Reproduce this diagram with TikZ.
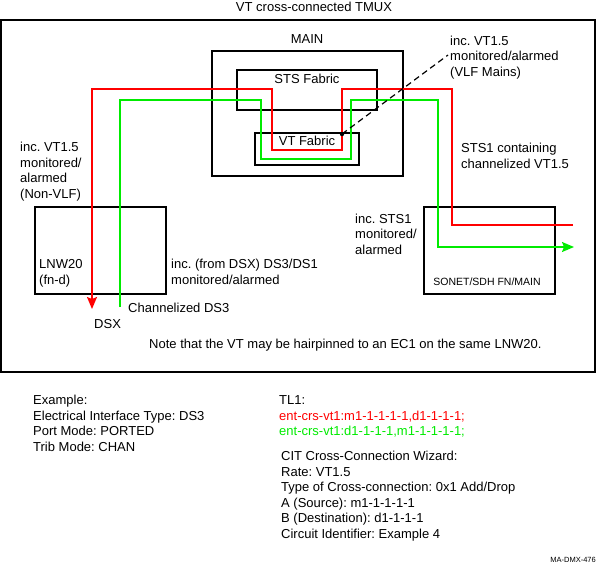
\documentclass[tikz,border=0pt]{standalone}
\usepackage{fontspec}
\setmainfont{Liberation Sans}
\usepackage{tikz}
\usepackage{xcolor}
\usetikzlibrary{arrows.meta}
\frenchspacing

\definecolor{vtred}{RGB}{255,0,0}
\definecolor{vtgreen}{RGB}{0,235,0}

\begin{document}
\begin{tikzpicture}[x=1pt, y=-1pt,
    box/.style={draw, line width=1.5pt, inner sep=0pt, anchor=north west},
    txt/.style={inner sep=0pt, anchor=base west, align=left, font=\fontsize{13}{15.5}\selectfont},
    small/.style={inner sep=0pt, font=\fontsize{10.5}{12}\selectfont},
    path red/.style={line width=1.5pt, draw=vtred},
    path green/.style={line width=1.5pt, draw=vtgreen},
    >={Stealth[length=12pt, width=10pt, inset=2pt]}]
  \useasboundingbox (0,0) rectangle (596,563);

  % frame and boxes
  \draw[line width=1.5pt] (1,20) rectangle (595,372);
  \node[box, minimum width=191pt, minimum height=125pt] (main) at (211,50) {};
  \node[box, minimum width=140pt, minimum height=40pt] (sts) at (236,69) {};
  \node[box, minimum width=104pt, minimum height=32pt] (vt) at (254,132) {};
  \node[box, minimum width=131pt, minimum height=87pt] (lnw) at (34,206) {};
  \node[box, minimum width=131pt, minimum height=87pt] (sonet) at (423,206) {};

  % box labels
  \node[txt, anchor=base] (title) at (314,11.5) {VT cross-connected TMUX};
  \node[txt, anchor=base] (mainlbl) at (307,43.5) {MAIN};
  \node[txt, anchor=base] (stslbl) at (307,83.5) {STS Fabric};
  \node[txt, anchor=base] (vtlbl) at (307,145.5) {VT Fabric};
  \node[txt] (lnwlbl) at (39,284) {LNW20\\(fn-d)};
  \node[small, anchor=base] (sonetlbl) at (487,285) {SONET/SDH FN/MAIN};

  % end points of the paths
  \coordinate (redin) at (573,225);
  \coordinate (dsx) at (92,309);
  \coordinate (chds3) at (120,307);
  \coordinate (greenout) at (574,247);
  \coordinate (tap) at (342,134);
  \coordinate (tapend) at (448,55);

  \draw[path red, ->] (redin) -- (452,225) -- (452,89) -- (342,89) -- (342,150)
    -- (272,150) -- (272,89) -- (92,89) -- (dsx);
  \draw[path green, ->] (chds3) -- (120,100) -- (261,100) -- (261,159)
    -- (351,159) -- (351,100) -- (438,100) -- (438,247) -- (greenout);
  \fill (tap) circle (2.2pt);
  \draw[line width=1.2pt, dash pattern=on 6pt off 4pt] (tap) -- (tapend);

  % notes in the frame
  \node[txt] (vlf) at (450,76) {inc. VT1.5\\monitored/alarmed\\(VLF Mains)};
  \node[txt] (nonvlf) at (20,198) {inc. VT1.5\\monitored/\\alarmed\\(Non-VLF)};
  \node[txt] (sts1) at (461,168) {STS1 containing\\channelized VT1.5};
  \node[txt] (incsts) at (355,254) {inc. STS1\\monitored/\\alarmed};
  \node[txt] (incds3) at (171,284) {inc. (from DSX) DS3/DS1\\monitored/alarmed};
  \node[txt] (chlbl) at (128,312.5) {Channelized DS3};
  \node[txt] (dsxlbl) at (94,328) {DSX};
  \node[txt] (note) at (149,348.5) {Note that the VT may be hairpinned to an EC1 on the same LNW20.};

  % text below the frame
  \node[txt] (example) at (33,451) {Example:\\Electrical Interface Type: DS3\\Port Mode: PORTED\\Trib Mode: CHAN};
  \node[txt] (tl1) at (279,404.5) {TL1:};
  \node[txt, text=vtred] (tlred) at (279,420) {ent-crs-vt1:m1-1-1-1-1,d1-1-1-1;};
  \node[txt, text=vtgreen] (tlgreen) at (279,435.5) {ent-crs-vt1:d1-1-1-1,m1-1-1-1-1;};
  \node[txt] (cit) at (281,538) {CIT Cross-Connection Wizard:\\Rate: VT1.5\\Type of Cross-connection: 0x1 Add/Drop\\A (Source): m1-1-1-1-1\\B (Destination): d1-1-1-1\\Circuit Identifier: Example 4};
  \node[inner sep=0pt, anchor=base east, font=\fontsize{7.5}{8}\selectfont] (fig) at (596,562) {MA-DMX-476};
\end{tikzpicture}
\end{document}
